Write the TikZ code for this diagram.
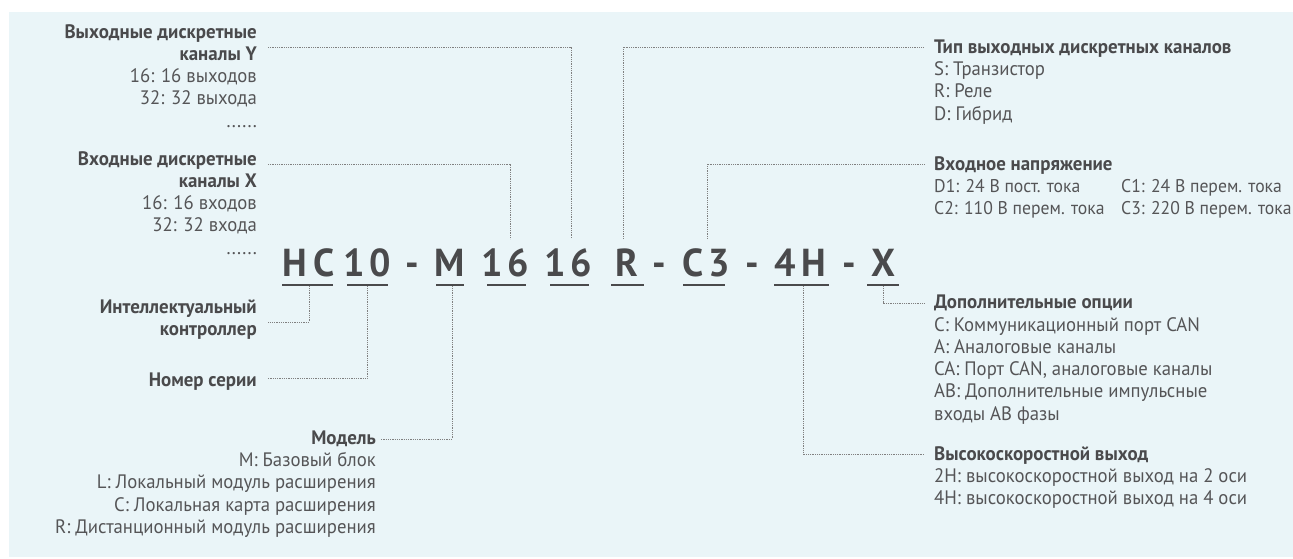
\documentclass[tikz,border=0pt]{standalone}
\usepackage{fontspec}
\setmainfont{PT Sans}[FakeStretch=0.96, BoldFeatures={FakeStretch=0.97}]
\usetikzlibrary{calc}
\definecolor{bgc}{HTML}{EAF5F8}
\definecolor{txt}{HTML}{4A4A4C}
\definecolor{txtl}{HTML}{555557}
\definecolor{dotc}{HTML}{808080}
\newcommand{\fsz}{\fontsize{19.5}{22.3}\selectfont}
\newcommand{\fszs}{\fontsize{18.4}{22.3}\selectfont}
\begin{document}
\begin{tikzpicture}[x=1pt,y=-1pt,
  conn/.style={draw=dotc, line width=0.9pt, dash pattern=on 0.9pt off 0.9pt},
  head/.style={inner sep=0pt, font=\fsz\bfseries, text=txt},
  lst/.style={inner sep=0pt, font=\fsz, text=txtl},
  lsts/.style={inner sep=0pt, font=\fszs, text=txtl},
  code/.style={inner sep=0pt, font=\fontsize{39}{40}\selectfont\bfseries, text=txt, text height=27pt, text depth=0pt, anchor=base},
  uline/.style={fill=txt, inner sep=0pt, minimum height=1.8pt},
]
\useasboundingbox (0,0) rectangle (1293,558);
\fill[bgc] (9,12) rectangle (1293,557);

% left column
\node[head, anchor=base east] (hY) at (257,38) {\begin{tabular}[t]{@{}r@{}}Выходные дискретные\\каналы Y\end{tabular}};
\node[lst, anchor=base east] (lY) at (257,82.6) {\begin{tabular}[t]{@{}r@{}}16: 16 выходов\\32: 32 выхода\\......\end{tabular}};
\node[head, anchor=base east] (hX) at (257,165) {\begin{tabular}[t]{@{}r@{}}Входные дискретные\\каналы X\end{tabular}};
\node[lst, anchor=base east] (lX) at (257,209.6) {\begin{tabular}[t]{@{}r@{}}16: 16 входов\\32: 32 входа\\......\end{tabular}};
\node[head, anchor=base east] (hIC) at (257,313) {\begin{tabular}[t]{@{}r@{}}Интеллектуальный\\контроллер\end{tabular}};
\node[head, anchor=base east] (hS) at (257,386) {Номер серии};
\node[head, anchor=base east] (hM) at (376,444) {Модель};
\node[lst, anchor=base east] (lM) at (376,466.6) {\begin{tabular}[t]{@{}r@{}}M: Базовый блок\\L: Локальный модуль расширения\\C: Локальная карта расширения\\R: Дистанционный модуль расширения\end{tabular}};

% right column
\node[head, anchor=base west] (hT) at (934,53) {Тип выходных дискретных каналов};
\node[lst, anchor=base west] (lT) at (934,75.6) {\begin{tabular}[t]{@{}l@{}}S: Транзистор\\R: Реле\\D: Гибрид\end{tabular}};
\node[head, anchor=base west] (hV) at (934,170) {Входное напряжение};
\node[lsts, anchor=base west] (lV1) at (934,192.3) {\begin{tabular}[t]{@{}l@{}}D1: 24 В пост. тока\\C2: 110 В перем. тока\end{tabular}};
\node[lsts, anchor=base west] (lV2) at (1121,192.3) {\begin{tabular}[t]{@{}l@{}}C1: 24 В перем. тока\\C3: 220 В перем. тока\end{tabular}};
\node[head, anchor=base west] (hO) at (934,308.5) {Дополнительные опции};
\node[lst, anchor=base west] (lO) at (934,331) {\begin{tabular}[t]{@{}l@{}}C: Коммуникационный порт CAN\\A: Аналоговые каналы\\CA: Порт CAN, аналоговые каналы\\AB: Дополнительные импульсные\\входы AB фазы\end{tabular}};
\node[head, anchor=base west] (hH) at (934,460) {Высокоскоростной выход};
\node[lst, anchor=base west] (lH) at (934,482.3) {\begin{tabular}[t]{@{}l@{}}2H: высокоскоростной выход на 2 оси\\4H: высокоскоростной выход на 4 оси\end{tabular}};

% code
\node[code] (gHC) at (308.5,276) {H\kern6pt C};
\node[code] (g10) at (367,276) {1\kern5pt 0};
\node[code] (d1) at (412.5,276) {-};
\node[code] (gM) at (450,276) {M};
\node[code] (g16a) at (505,276) {1\kern5pt 6};
\node[code] (g16b) at (568,276) {1\kern5pt 6};
\node[code] (gR) at (627,276) {R};
\node[code] (d2) at (659,276) {-};
\node[code] (gC3) at (706,276) {C\kern5pt 3};
\node[code] (d3) at (752.5,276) {-};
\node[code] (g4H) at (800.5,276) {4\kern5pt H};
\node[code] (d4) at (849.5,276) {-};
\node[code] (gX) at (883,276) {X};

% underlines
\node[uline, minimum width=51pt] (uHC) at (307.5,285) {};
\node[uline, minimum width=41pt] (u10) at (367.5,285) {};
\node[uline, minimum width=28pt] (uM) at (450,285) {};
\node[uline, minimum width=39pt] (u16a) at (506.5,285) {};
\node[uline, minimum width=39pt] (u16b) at (569.5,285) {};
\node[uline, minimum width=33pt] (uR) at (627.5,285) {};
\node[uline, minimum width=42pt] (uC3) at (704,285) {};
\node[uline, minimum width=55pt] (u4H) at (801.5,285) {};
\node[uline, minimum width=32pt] (uX) at (883,285) {};

% connector ends
\coordinate (cY) at (268,47);
\coordinate (cX) at (268,164);
\coordinate (cT) at (923,47);
\coordinate (cV) at (924,164);
\coordinate (cO) at (924,303);
\coordinate (cH) at (924,454);
\coordinate (cIC) at (268,322);
\coordinate (cS) at (268,378);
\coordinate (cM) at (381,439);

\draw[conn] (cY) -| ($(g16b.north)+(3,-10)$);
\draw[conn] (cX) -| ($(g16a.north)+(5,-10)$);
\draw[conn] ($(gR.north)+(-4,-10)$) |- (cT);
\draw[conn] ($(gC3.north)+(1,-10)$) |- (cV);
\draw[conn] (uX.south) |- (cO);
\draw[conn] ([xshift=1.5pt]u4H.south) |- (cH);
\draw[conn] ([xshift=1.5pt]uHC.south) |- (cIC);
\draw[conn] (u10.south) |- (cS);
\draw[conn] ([xshift=2pt]uM.south) |- (cM);
\end{tikzpicture}
\end{document}
